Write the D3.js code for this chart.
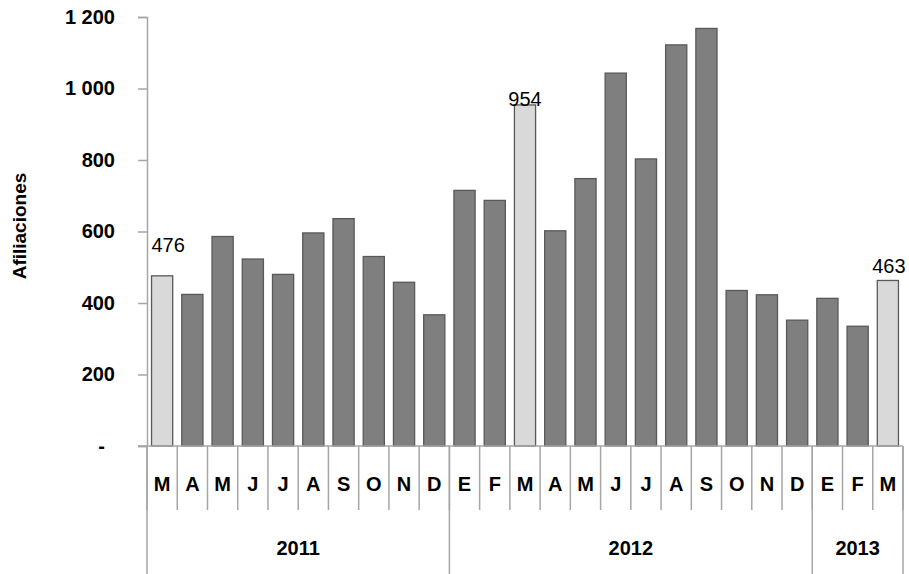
<!DOCTYPE html>
<meta charset="utf-8">
<script src="https://d3js.org/d3.v7.min.js"></script>
<style>
  body { margin: 0; background: #fff; }
  text { font-family: "Liberation Sans", Arial, sans-serif; }
</style>
<div id="my_dataviz"></div>
<script>
  // monthly data, March 2011 - March 2013
  var months = ["M","A","M","J","J","A","S","O","N","D",
                "E","F","M","A","M","J","J","A","S","O","N","D",
                "E","F","M"];
  var values = [476, 424, 586, 523, 480, 596, 636, 530, 458, 367,
                715, 687, 954, 602, 748, 1043, 803, 1122, 1168, 435, 423, 352,
                413, 335, 463];
  var years = ["2011", "2012", "2013"];
  var yearCounts = [10, 12, 3];
  var highlighted = [0, 12, 24];   // bars shown light, with their value
  var yTicks = [0, 200, 400, 600, 800, 1000, 1200];

  var width = 909, height = 574;
  var margin = { top: 17, right: 6, bottom: 128, left: 147 };

  var svg = d3.select("#my_dataviz")
    .append("svg")
    .attr("width", width)
    .attr("height", height);

  var x = d3.scaleBand()
    .domain(d3.range(values.length))
    .range([margin.left, width - margin.right])
    .paddingInner(0.3)
    .paddingOuter(0.15);

  var y = d3.scaleLinear()
    .domain([0, 1200])
    .range([height - margin.bottom, margin.top]);

  var axisColor = "#a6a6a6";
  var y0 = y(0);

  // y axis
  var yAxis = svg.append("g")
    .attr("transform", "translate(" + margin.left + ",0)")
    .call(d3.axisLeft(y).tickValues(yTicks).tickSize(9).tickPadding(23)
      .tickFormat(function (d) {
        return d == 0 ? "-" : d3.format(",")(d).replace(",", " ");
      }));
  yAxis.select(".domain").attr("stroke", axisColor).attr("stroke-width", 1.5);
  yAxis.selectAll(".tick line").attr("stroke", axisColor).attr("stroke-width", 1.5);
  yAxis.selectAll(".tick text")
    .style("font-size", "20px")
    .style("font-weight", "bold")
    .attr("fill", "#000")
    .attr("dx", function (d) { return d == 0 ? -10 : 0; });

  // axis title
  svg.append("text")
    .attr("transform", "translate(26,226) rotate(-90)")
    .attr("text-anchor", "middle")
    .style("font-size", "19px")
    .style("font-weight", "bold")
    .text("Afiliaciones");

  // bars
  svg.selectAll("rect.bar")
    .data(values)
    .enter()
    .append("rect")
    .attr("class", "bar")
    .attr("x", function (d, i) { return x(i); })
    .attr("y", function (d) { return y(d); })
    .attr("width", x.bandwidth())
    .attr("height", function (d) { return y0 - y(d); })
    .attr("fill", function (d, i) { return highlighted.indexOf(i) >= 0 ? "#d9d9d9" : "#7f7f7f"; })
    .attr("stroke", "#595959")
    .attr("stroke-width", 1.3);

  // value labels
  var labelNudge = { 0: [6, -24], 12: [0, 1], 24: [1, -7] };
  svg.selectAll("text.val")
    .data(highlighted)
    .enter()
    .append("text")
    .attr("class", "val")
    .attr("x", function (i) { return x(i) + x.bandwidth() / 2 + labelNudge[i][0]; })
    .attr("y", function (i) { return y(values[i]) + labelNudge[i][1]; })
    .attr("text-anchor", "middle")
    .style("font-size", "20px")
    .text(function (i) { return values[i]; });

  // baseline
  svg.append("line")
    .attr("x1", margin.left - 9).attr("x2", width - margin.right)
    .attr("y1", y0).attr("y2", y0)
    .attr("stroke", axisColor).attr("stroke-width", 1.5);

  // category axis: month row and year row
  var step = x.step();
  var x0 = margin.left;
  var monthBottom = y0 + 64;

  svg.selectAll("line.msep")
    .data(d3.range(values.length + 1))
    .enter()
    .append("line")
    .attr("class", "msep")
    .attr("x1", function (i) { return x0 + i * step; })
    .attr("x2", function (i) { return x0 + i * step; })
    .attr("y1", y0)
    .attr("y2", monthBottom)
    .attr("stroke", axisColor).attr("stroke-width", 1.5);

  svg.selectAll("text.month")
    .data(months)
    .enter()
    .append("text")
    .attr("class", "month")
    .attr("x", function (d, i) { return x0 + (i + 0.5) * step; })
    .attr("y", y0 + 45)
    .attr("text-anchor", "middle")
    .style("font-size", "20px")
    .style("font-weight", "bold")
    .text(function (d) { return d; });

  var starts = [0];
  yearCounts.forEach(function (c, i) { starts.push(starts[i] + c); });

  svg.selectAll("line.ysep")
    .data(starts)
    .enter()
    .append("line")
    .attr("class", "ysep")
    .attr("x1", function (s) { return x0 + s * step; })
    .attr("x2", function (s) { return x0 + s * step; })
    .attr("y1", y0)
    .attr("y2", height)
    .attr("stroke", axisColor).attr("stroke-width", 1.5);

  svg.selectAll("text.year")
    .data(years)
    .enter()
    .append("text")
    .attr("class", "year")
    .attr("x", function (d, i) { return x0 + (starts[i] + yearCounts[i] / 2) * step; })
    .attr("y", y0 + 109)
    .attr("text-anchor", "middle")
    .style("font-size", "20px")
    .style("font-weight", "bold")
    .text(function (d) { return d; });
</script>
